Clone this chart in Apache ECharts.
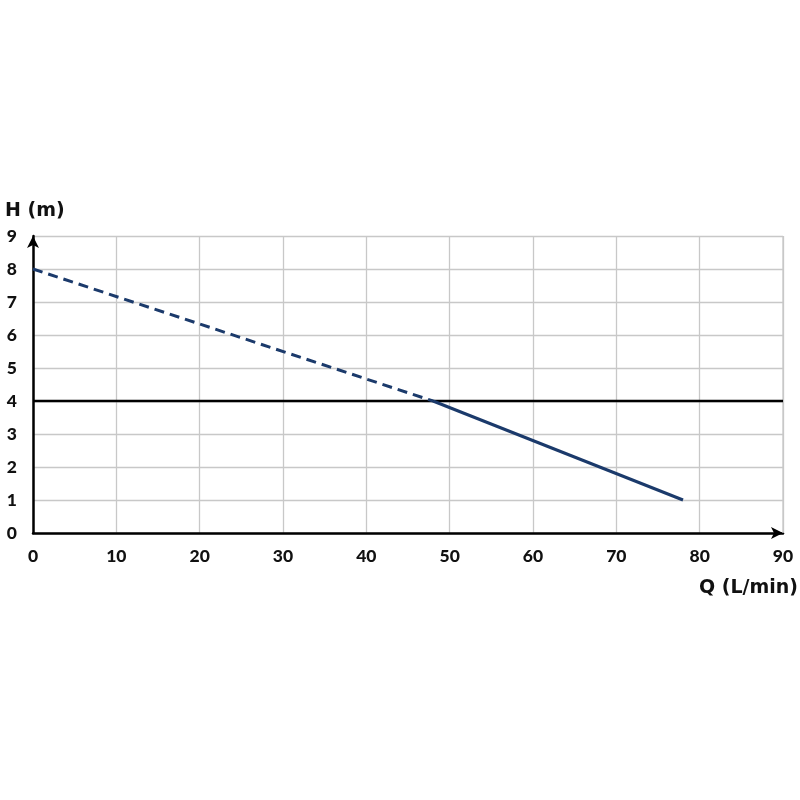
<!DOCTYPE html>
<html>
<head>
<meta charset="utf-8">
<script src="https://cdn.jsdelivr.net/npm/echarts@6/dist/echarts.min.js"></script>
<style>
html,body{margin:0;padding:0;background:#fff;}
#c{width:800px;height:800px;}
</style>
</head>
<body>
<div id="c"></div>
<script>
const xTicks = [0,10,20,30,40,50,60,70,80,90];
const yTicks = [0,1,2,3,4,5,6,7,8,9];
const dashedCurve = [[0,8],[48,4]];
const solidCurve = [[48,4],[78,1]];
const referenceLine = [[0,4],[90,4]];
const xName = 'Q (L/min)';
const yName = 'H (m)';

const chart = echarts.init(document.getElementById('c'));
const font = 'Lato';
const navy = '#1b3a6b';
chart.setOption({
  animation:false,
  grid:{left:33,right:17,top:236,bottom:267,containLabel:false},
  graphic:[
    {type:'text',left:5,top:202,style:{text:yName,font:'bold 19px "DejaVu Sans"',fill:'#111'}},
    {type:'text',right:2,top:579,style:{text:xName,font:'bold 19px "DejaVu Sans"',fill:'#111'}}
  ],
  xAxis:{
    type:'value',min:xTicks[0],max:xTicks[xTicks.length-1],interval:10,
    axisLine:{show:true,lineStyle:{color:'#000',width:2.5},symbol:['none','arrow'],symbolSize:[9,12],symbolOffset:[0,0]},
    axisTick:{show:false},
    axisLabel:{margin:14,color:'#111',fontFamily:font,fontWeight:900,fontSize:17.5},
    splitLine:{show:true,lineStyle:{color:'#c8c8c8',width:1.3}}
  },
  yAxis:{
    type:'value',min:yTicks[0],max:yTicks[yTicks.length-1],interval:1,
    axisLine:{show:true,lineStyle:{color:'#000',width:2.5},symbol:['none','arrow'],symbolSize:[9,12]},
    axisTick:{show:false},
    axisLabel:{margin:16,color:'#111',fontFamily:font,fontWeight:900,fontSize:17.5},
    splitLine:{show:true,lineStyle:{color:'#c8c8c8',width:1.3}}
  },
  series:[
    {type:'line',data:referenceLine,symbol:'none',lineStyle:{color:'#000',width:2.5},z:3},
    {type:'line',data:dashedCurve,symbol:'none',lineStyle:{color:navy,width:3,type:[10,6]},z:4},
    {type:'line',data:solidCurve,symbol:'none',lineStyle:{color:navy,width:3},z:4},
    {type:'line',data:[[90,0],[90,9]],symbol:'none',lineStyle:{color:'#c8c8c8',width:1.3},z:1,silent:true}
  ]
});
</script>
</body>
</html>
